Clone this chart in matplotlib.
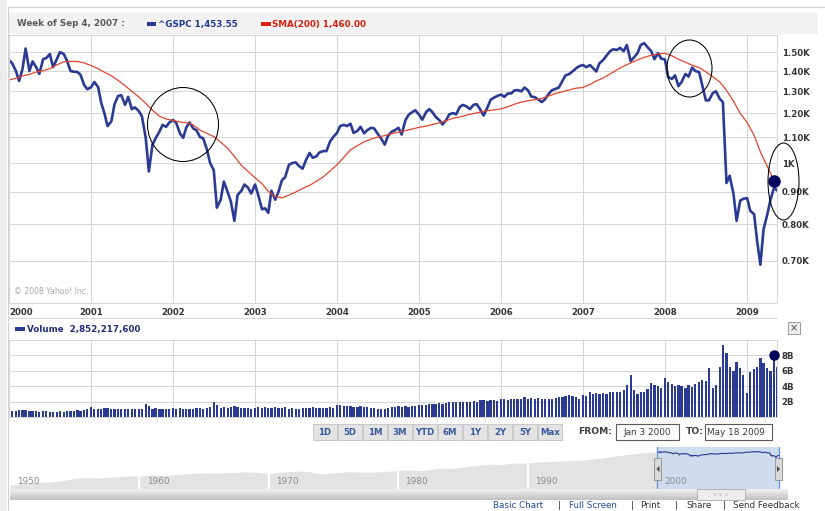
import numpy as np
import pandas as pd
import matplotlib
matplotlib.use("Agg")
import matplotlib.pyplot as plt
from matplotlib.patches import Rectangle, Ellipse, Polygon
from matplotlib.ticker import FixedLocator, NullLocator

W, H = 825, 511

# ^GSPC weekly chart, read twice a month (1st and 15th)
close_2000 = [1458, 1440, 1400, 1350, 1410, 1520, 1400, 1450, 1420, 1385, 1462, 1468,
              1490, 1420, 1462, 1500, 1490, 1455, 1400, 1397, 1395, 1380, 1330, 1310]
close_2001 = [1320, 1345, 1320, 1245, 1200, 1145, 1165, 1240, 1278, 1282, 1237, 1274,
              1218, 1226, 1210, 1187, 1097, 970, 1070, 1095, 1122, 1150, 1142, 1160]
close_2002 = [1171, 1158, 1114, 1097, 1140, 1160, 1135, 1128, 1100, 1095, 1050, 1000,
              975, 850, 875, 935, 900, 870, 810, 890, 904, 925, 914, 895]
close_2003 = [925, 891, 845, 848, 834, 904, 875, 900, 940, 950, 994, 1000,
              1003, 990, 980, 1010, 1038, 1020, 1025, 1040, 1045, 1045, 1082, 1100]
close_2004 = [1117, 1145, 1150, 1145, 1155, 1117, 1125, 1142, 1115, 1128, 1138, 1135,
              1112, 1095, 1070, 1105, 1122, 1128, 1138, 1110, 1170, 1193, 1205, 1213]
close_2005 = [1193, 1172, 1205, 1218, 1205, 1185, 1170, 1152, 1170, 1195, 1201, 1195,
              1228, 1237, 1230, 1218, 1238, 1240, 1215, 1190, 1225, 1260, 1271, 1278]
close_2006 = [1285, 1274, 1290, 1290, 1304, 1306, 1300, 1318, 1305, 1276, 1272, 1262,
              1250, 1262, 1288, 1305, 1312, 1318, 1350, 1378, 1385, 1398, 1414, 1425]
close_2007 = [1431, 1420, 1431, 1414, 1398, 1440, 1458, 1480, 1505, 1516, 1512, 1524,
              1505, 1540, 1452, 1470, 1495, 1540, 1550, 1528, 1505, 1462, 1495, 1465]
close_2008 = [1460, 1370, 1360, 1378, 1325, 1345, 1385, 1372, 1418, 1400, 1395, 1330,
              1258, 1258, 1292, 1300, 1265, 1250, 930, 955, 895, 810, 872, 878]
close_2009 = [880, 840, 830, 750, 690, 785, 830, 875, 915, 905]

# SMA(200), one reading a month
sma_2000 = [1355, 1363, 1375, 1383, 1395, 1402, 1412, 1432, 1448, 1450, 1450, 1442]
sma_2001 = [1428, 1412, 1394, 1376, 1353, 1327, 1300, 1274, 1244, 1214, 1187, 1175]
sma_2002 = [1169, 1162, 1159, 1150, 1128, 1115, 1102, 1080, 1056, 1025, 992, 970]
sma_2003 = [948, 928, 902, 885, 881, 890, 900, 912, 922, 936, 951, 972]
sma_2004 = [994, 1022, 1050, 1066, 1081, 1092, 1100, 1106, 1114, 1120, 1126, 1133]
sma_2005 = [1140, 1145, 1152, 1158, 1168, 1178, 1184, 1192, 1199, 1205, 1211, 1215]
sma_2006 = [1219, 1229, 1240, 1250, 1256, 1261, 1266, 1278, 1290, 1298, 1307, 1315]
sma_2007 = [1318, 1333, 1350, 1365, 1385, 1406, 1425, 1442, 1458, 1472, 1483, 1490]
sma_2008 = [1494, 1480, 1462, 1446, 1430, 1418, 1396, 1372, 1345, 1305, 1255, 1200]
sma_2009 = [1160, 1107, 1042, 988, 937]

# volume, billions, same dates as the closes
vol_2000 = [0.9, 0.8, 0.8, 0.9, 0.9, 0.9, 0.8, 0.8, 0.8, 0.7, 0.8, 0.8,
            0.7, 0.7, 0.7, 0.8, 0.7, 0.8, 0.8, 0.8, 0.9, 0.8, 0.9, 1.0]
vol_2001 = [1.3, 1.0, 1.0, 1.1, 1.2, 1.2, 1.1, 1.0, 1.0, 1.0, 1.0, 1.0,
            1.0, 1.0, 1.1, 1.0, 1.7, 1.4, 1.1, 1.2, 1.1, 1.0, 1.1, 1.1]
vol_2002 = [1.2, 1.1, 1.2, 1.1, 1.1, 1.1, 1.1, 1.2, 1.2, 1.1, 1.2, 1.3,
            2.0, 1.6, 1.2, 1.3, 1.2, 1.3, 1.4, 1.3, 1.2, 1.2, 1.2, 1.1]
vol_2003 = [1.2, 1.3, 1.2, 1.3, 1.2, 1.2, 1.3, 1.2, 1.2, 1.3, 1.1, 1.2,
            1.1, 1.1, 1.2, 1.2, 1.2, 1.3, 1.2, 1.2, 1.2, 1.2, 1.3, 1.2]
vol_2004 = [1.6, 1.5, 1.4, 1.4, 1.4, 1.3, 1.3, 1.4, 1.3, 1.3, 1.2, 1.2,
            1.1, 1.1, 1.1, 1.2, 1.3, 1.3, 1.4, 1.3, 1.4, 1.3, 1.4, 1.4]
vol_2005 = [1.5, 1.6, 1.6, 1.7, 1.7, 1.7, 1.8, 1.7, 1.8, 1.9, 1.9, 2.0,
            2.0, 1.9, 2.0, 2.0, 2.1, 2.0, 2.2, 2.2, 2.1, 2.2, 2.2, 2.1]
vol_2006 = [2.3, 2.4, 2.2, 2.3, 2.4, 2.3, 2.4, 2.6, 2.4, 2.5, 2.4, 2.5,
            2.4, 2.3, 2.4, 2.4, 2.5, 2.6, 2.6, 2.7, 2.8, 2.7, 2.6, 2.4]
vol_2007 = [2.8, 2.7, 3.2, 3.0, 3.1, 3.0, 3.1, 3.0, 3.2, 3.3, 3.2, 3.3,
            3.5, 4.2, 5.4, 3.5, 3.0, 3.2, 3.3, 3.6, 4.4, 4.2, 4.0, 3.8]
vol_2008 = [5.1, 4.5, 4.3, 4.0, 4.2, 4.0, 3.8, 4.2, 3.9, 4.3, 4.5, 4.8,
            4.7, 6.4, 3.8, 4.1, 6.5, 9.4, 8.3, 6.5, 6.0, 7.2, 6.3, 5.5]
vol_2009 = [3.1, 5.8, 6.2, 6.5, 7.7, 7.0, 6.4, 6.0, 8.0, 6.5]

# navigator silhouette, one reading per year
hist_years = list(range(1950, 2001))
hist_close = [17, 22, 24, 25, 30, 42, 46, 44, 50, 58, 57, 67, 60, 70, 82, 88, 85, 92, 100, 95,
              80, 98, 110, 105, 75, 88, 102, 98, 96, 104, 125, 125, 120, 160, 160, 190, 240,
              280, 270, 330, 330, 380, 420, 450, 460, 560, 680, 900, 1100, 1350, 1450]

price_ticks = [700, 800, 900, 1000, 1100, 1200, 1300, 1400, 1500]
price_labels = ["0.70K", "0.80K", "0.90K", "1K", "1.10K", "1.20K", "1.30K", "1.40K", "1.50K"]
vol_ticks = [2, 4, 6, 8]
vol_labels = ["2B", "4B", "6B", "8B"]
years = list(range(2000, 2010))
ranges = ["1D", "5D", "1M", "3M", "YTD", "6M", "1Y", "2Y", "5Y", "Max"]
decades = [1950, 1960, 1970, 1980, 1990, 2000]

close = (close_2000 + close_2001 + close_2002 + close_2003 + close_2004 + close_2005
         + close_2006 + close_2007 + close_2008 + close_2009)
sma = (sma_2000 + sma_2001 + sma_2002 + sma_2003 + sma_2004 + sma_2005
       + sma_2006 + sma_2007 + sma_2008 + sma_2009)
vol = (vol_2000 + vol_2001 + vol_2002 + vol_2003 + vol_2004 + vol_2005
       + vol_2006 + vol_2007 + vol_2008 + vol_2009)
dates = pd.date_range("2000-01-01", periods=len(close), freq="SMS")
sma_dates = pd.date_range("2000-01-01", periods=len(sma), freq="MS")
year_dates = [pd.Timestamp(f"{y}-01-01") for y in years]
x0_date, x1_date = pd.Timestamp("2000-01-01"), pd.Timestamp("2009-05-14")

NAVY = "#2b3b93"
RED = "#e0462f"
DOT = "#00005c"
GRID = "#d6d6d6"
TXT = "#363636"

fig = plt.figure(figsize=(W / 100, H / 100), dpi=100)


def box(x0, y0, x1, y1):
    # axes placed by pixel corners (top-left origin)
    return fig.add_axes([x0 / W, 1 - y1 / H, (x1 - x0) / W, (y1 - y0) / H])


# ---- price panel
ax = box(9, 35, 777, 303)
ax.set_yscale("log")
ax.plot(dates, close, color=NAVY, lw=1.9, solid_joinstyle="round")
ax.plot(sma_dates, sma, color=RED, lw=0.9)
ax.plot(sma_dates[-1:], sma[-1:], "o", color=DOT, ms=8, zorder=5, clip_on=False)
ax.set_xlim(x0_date, x1_date)
ax.set_ylim(600, 1597)
ax.yaxis.set_major_locator(FixedLocator(price_ticks))
ax.yaxis.set_minor_locator(NullLocator())
ax.set_yticklabels(price_labels, fontweight="bold")
ax.yaxis.tick_right()
ax.set_xticks(year_dates)
ax.set_xticklabels([str(y) for y in years], fontweight="bold")
ax.xaxis.set_minor_locator(NullLocator())
ax.tick_params(length=0, labelsize=6.2, labelcolor=TXT, pad=3.5)
ax.get_xticklabels()[0].set_ha("left")
ax.grid(color=GRID, lw=0.75)
for s in ax.spines.values():
    s.set_color(GRID)
    s.set_linewidth(0.75)
ax.text(0.007, 0.035, "\u00a9 2008 Yahoo! Inc.", transform=ax.transAxes,
        fontsize=5.6, color="#a8a8a8")

# ---- volume panel
vax = box(9, 340, 777, 417)
vax.bar(dates, vol, width=10, color=NAVY, lw=0)
vax.plot(dates[-2:-1], vol[-2:-1], "o", color=DOT, ms=6.5, zorder=5, clip_on=False)
vax.set_xlim(x0_date, x1_date)
vax.set_ylim(0, 10)
vax.set_yticks(vol_ticks)
vax.set_yticklabels(vol_labels, fontweight="bold")
vax.yaxis.tick_right()
vax.set_xticks(year_dates)
vax.set_xticklabels([])
vax.tick_params(length=0, labelsize=6.2, labelcolor=TXT, pad=3)
vax.grid(color=GRID, lw=0.75)
vax.set_axisbelow(True)
for s in vax.spines.values():
    s.set_color(GRID)
    s.set_linewidth(0.75)

# ---- navigator
dec = dates.year + (dates.dayofyear - 1) / 365.25
dec_end = 2009.37
nav = box(10, 447, 790, 490)
nav.set_yscale("log")
nav.fill_between(hist_years, hist_close, 1, color="#e3e3e3", lw=0)
nav.axvspan(2000, dec_end, color="#cfdcee", lw=0)
nav.plot(dec, close, color=NAVY, lw=0.8)
for d in decades[1:-1]:
    nav.axvline(d, color="white", lw=1.6)
for d in (2000, dec_end):
    nav.axvline(d, color="#5f95dc", lw=0.9)
for d in decades:
    nav.text(d + 0.55, 0.2, str(d), transform=nav.get_xaxis_transform(),
             fontsize=6.4, color="#8a8a8a", va="center")
nav.set_xlim(1950, 2010.25)
nav.set_ylim(8.7, 2850)
nav.axis("off")

# ---- page furniture, in pixels
ov = box(0, 0, W, H)
ov.set_xlim(0, W)
ov.set_ylim(H, 0)
ov.axis("off")
ov.set_zorder(10)

ov.add_patch(Rectangle((0, 0), 7, H, color="#ececec", lw=0))
ov.plot([8, 8], [7, H], color="#d2d2d2", lw=0.8)
ov.plot([8, W], [7, 7], color="#d2d2d2", lw=0.8)
ov.add_patch(Rectangle((9, 13), 809, 21, color="#f2f2f2", lw=0))

ov.text(17, 24, "Week of Sep 4, 2007 :", fontsize=6.3, fontweight="bold",
        color="#5a5a5a", va="center")
ov.add_patch(Rectangle((147, 22), 9, 4.5, color=NAVY, lw=0))
ov.text(158, 24, "^GSPC 1,453.55", fontsize=6.3, fontweight="bold", color="#1f3c8f", va="center")
ov.add_patch(Rectangle((261, 22), 10, 4.5, color="#e02010", lw=0))
ov.text(272, 24, "SMA(200) 1,460.00", fontsize=6.3, fontweight="bold", color="#d8200f",
        va="center")

ov.plot([9, 777], [318, 318], color=GRID, lw=0.75)
ov.add_patch(Rectangle((15, 327), 10, 4.5, color=NAVY, lw=0))
ov.text(27, 329.5, "Volume  2,852,217,600", fontsize=6.3, fontweight="bold",
        color="#1f2f7d", va="center")
ov.add_patch(Rectangle((788, 322), 12, 12, facecolor="#eeeeee", edgecolor="#9a9a9a", lw=0.7))
ov.text(794, 328, "\u00d7", fontsize=7, color="#444444", ha="center", va="center")

# ellipses drawn over the chart
for cx, cy, ew, eh in [(183, 124.5, 71, 74), (689.5, 68.5, 45, 57), (783.5, 181.5, 31, 77)]:
    ov.add_patch(Ellipse((cx, cy), ew, eh, fill=False, edgecolor="black", lw=0.75))

# range buttons
for i, r in enumerate(ranges):
    bx = 313 + 25 * i
    ov.add_patch(Rectangle((bx, 424), 24, 16, facecolor="#e3e3e3", edgecolor="#c8c8c8", lw=0.7))
    ov.text(bx + 12, 432.5, r, fontsize=6.2, fontweight="bold", color="#3a5a9e",
            ha="center", va="center")

ov.text(578, 432, "FROM:", fontsize=6.6, fontweight="bold", color="#3f3f3f", va="center")
ov.add_patch(Rectangle((616, 424), 63, 16, facecolor="white", edgecolor="#5a5a5a", lw=0.8))
ov.text(647.5, 432.5, "Jan 3 2000", fontsize=6.4, color="#3a3a3a", ha="center", va="center")
ov.text(686, 432, "TO:", fontsize=6.6, fontweight="bold", color="#3f3f3f", va="center")
to_box = Rectangle((705, 424), 67, 16, facecolor="white", edgecolor="#5a5a5a", lw=0.8)
ov.add_patch(to_box)
t = ov.text(707, 432.5, "May 18 2009", fontsize=6.4, color="#3a3a3a", va="center")
t.set_clip_path(to_box)

# navigator handles, scrollbar
for hx, pts in [(654, [(659.5, 466), (659.5, 472), (656.5, 469)]),
                (775, [(777, 466), (777, 472), (780, 469)])]:
    ov.add_patch(Rectangle((hx, 458), 7, 22, facecolor="#d9d9d9", edgecolor="#8c8c8c", lw=0.6))
    ov.add_patch(Polygon(pts, closed=True, color="#444444", lw=0))
grad = np.linspace(0.94, 0.76, 12).reshape(-1, 1)
ov.imshow(grad, extent=[10, 788, 500, 489], cmap="gray", vmin=0, vmax=1, aspect="auto",
          zorder=1)
ov.add_patch(Rectangle((697, 489), 48, 11, facecolor="#ededed", edgecolor="#b3b3b3", lw=0.7,
                       zorder=2))
ov.text(721, 494.5, "v v v", fontsize=4.5, color="#b8b8b8", ha="center", va="center", zorder=3)
ov.set_xlim(0, W)
ov.set_ylim(H, 0)

# footer links along the page edge
for lx, txt, col in [(493, "Basic Chart", "#1f4f9e"), (569, "Full Screen", "#1f4f9e"),
                     (640, "Print", "#333333"), (686, "Share", "#333333"),
                     (733, "Send Feedback", "#333333")]:
    ov.text(lx, 509.5, txt, fontsize=6.3, color=col, va="bottom")
for sx in (558, 631, 675, 723):
    ov.text(sx, 509.5, "|", fontsize=6.3, color="#333333", va="bottom")

fig.savefig("out.png", dpi=100)
